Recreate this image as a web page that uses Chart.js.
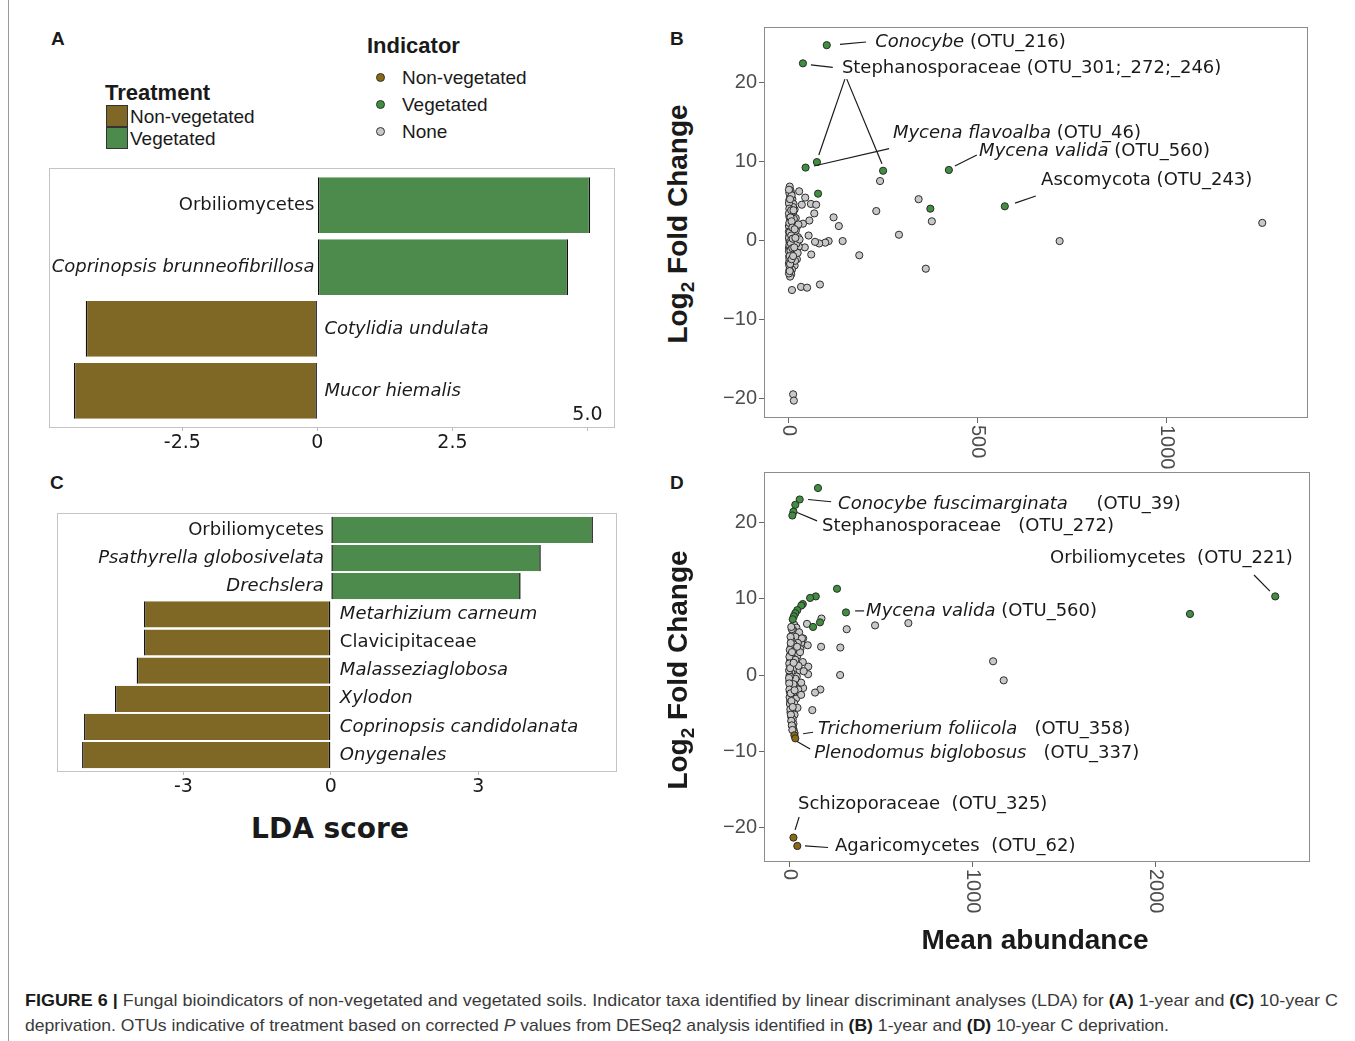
<!DOCTYPE html>
<html>
<head>
<meta charset="utf-8">
<script src="https://cdn.jsdelivr.net/npm/chart.js@4.4.1/dist/chart.umd.min.js"></script>
<style>
  body { margin: 0; background: #fff; }
  #fig { position: relative; width: 1355px; height: 1041px; overflow: hidden; font-family: 'Liberation Sans', Arial, sans-serif; color: #1a1a1a; }
  canvas { position: absolute; }
  .t { position: absolute; white-space: nowrap; line-height: 1; }
  .letter { font-weight: bold; font-size: 19px; }
  .legtitle { font-weight: bold; font-size: 22px; }
  .leg { font-size: 19px; }
  .swatch { position: absolute; width: 20px; height: 20px; border: 1px solid #333; }
  .dot { position: absolute; width: 7px; height: 7px; border: 1px solid #333; border-radius: 50%; }
  .ytitle { font-weight: bold; font-size: 28px; transform: translate(-50%, -50%) rotate(-90deg); }
  .ytitle sub { font-size: 19px; vertical-align: -7px; }
  .cap { font-size: 17px; color: #3a3a3a; transform-origin: 0 0; }
  .cap b { color: #1a1a1a; }
  .edge { position: absolute; left: 8px; top: 0; width: 1px; height: 1041px; background: #9a9a9a; }
</style>
</head>
<body>
<div id="fig">
  <div class="edge"></div>

  <div class="t letter" style="left:51px;top:29px">A</div>
  <div class="t letter" style="left:670px;top:29px">B</div>
  <div class="t letter" style="left:50px;top:473px">C</div>
  <div class="t letter" style="left:670px;top:473px">D</div>

  <div class="t legtitle" style="left:105px;top:82px">Treatment</div>
  <div class="swatch" style="left:106px;top:105px;background:#7f6725"></div>
  <div class="swatch" style="left:106px;top:127px;background:#4d8b4d"></div>
  <div class="t leg" style="left:130px;top:107px">Non-vegetated</div>
  <div class="t leg" style="left:130px;top:129px">Vegetated</div>

  <div class="t legtitle" style="left:367px;top:35px">Indicator</div>
  <div class="dot" style="left:376px;top:73px;background:#8b6914"></div>
  <div class="dot" style="left:376px;top:100px;background:#3f8f3f"></div>
  <div class="dot" style="left:376px;top:127px;background:#c8c8c8"></div>
  <div class="t leg" style="left:402px;top:68px">Non-vegetated</div>
  <div class="t leg" style="left:402px;top:95px">Vegetated</div>
  <div class="t leg" style="left:402px;top:122px">None</div>

  <canvas id="chartA" width="590" height="300" style="left:40px;top:160px"></canvas>
  <canvas id="chartC" width="590" height="300" style="left:40px;top:505px"></canvas>
  <canvas id="chartB" width="630" height="460" style="left:700px;top:20px"></canvas>
  <canvas id="chartD" width="630" height="460" style="left:700px;top:465px"></canvas>

  <div class="t ytitle" style="left:680px;top:224px">Log<sub>2</sub> Fold Change</div>
  <div class="t ytitle" style="left:680px;top:670px">Log<sub>2</sub> Fold Change</div>
  <div class="t" style="left:330px;top:812px;transform:translateX(-50%);font:bold 28px 'DejaVu Sans'">LDA score</div>
  <div class="t" style="left:1035px;top:926px;transform:translateX(-50%);font-weight:bold;font-size:28px">Mean abundance</div>

  <div class="t cap" data-w="1313" style="left:25px;top:992px"><b>FIGURE 6 |</b> Fungal bioindicators of non-vegetated and vegetated soils. Indicator taxa identified by linear discriminant analyses (LDA) for <b>(A)</b> 1-year and <b>(C)</b> 10-year C</div>
  <div class="t cap" data-w="1144" style="left:25px;top:1017px">deprivation. OTUs indicative of treatment based on corrected <i>P</i> values from DESeq2 analysis identified in <b>(B)</b> 1-year and <b>(D)</b> 10-year C deprivation.</div>
</div>

<script>
// ---- LDA scores ----
const taxaA = ['Orbiliomycetes', 'Coprinopsis brunneofibrillosa', 'Cotylidia undulata', 'Mucor hiemalis'];
const ldaA = [5.05, 4.64, -4.29, -4.51];
const ticksA = [-2.5, 0, 2.5, 5.0];
const tickLabelsA = ['-2.5', '0', '2.5', '5.0'];

const taxaC = ['Orbiliomycetes', 'Psathyrella globosivelata', 'Drechslera', 'Metarhizium carneum',
  'Clavicipitaceae', 'Malasseziaglobosa', 'Xylodon', 'Coprinopsis candidolanata', 'Onygenales'];
const ldaC = [5.33, 4.27, 3.86, -3.80, -3.80, -3.95, -4.39, -5.02, -5.06];
const ticksC = [-3, 0, 3];
const tickLabelsC = ['-3', '0', '3'];

// names typeset in italics (genus / species level)
const italicTaxa = new Set(['Coprinopsis brunneofibrillosa', 'Cotylidia undulata', 'Mucor hiemalis',
  'Psathyrella globosivelata', 'Drechslera', 'Metarhizium carneum', 'Malasseziaglobosa', 'Xylodon',
  'Coprinopsis candidolanata', 'Onygenales']);

// ---- DESeq2: [mean abundance, log2 fold change] ----
const vegB = [[100, 24.7], [37, 22.4], [44, 9.2], [74, 9.9], [249, 8.8], [77, 5.9], [423, 8.9], [374, 4.0], [571, 4.3]];
const nonvegB = [];
const noneB = [
  [241, 7.5], [343, 5.2], [231, 3.7], [378, 2.4], [291, 0.7], [362, -3.6], [186, -1.9], [142, -0.1],
  [132, 1.8], [118, 2.9], [105, -0.1], [96, -0.3], [80, -0.4], [69, -0.2], [54, 2.5], [37, 2.1],
  [67, 3.4], [58, 4.6], [72, 4.5], [43, 5.4], [27, 6.2], [34, 4.5], [52, 0.6], [59, -1.8], [42, -0.9],
  [8, -6.3], [32, -5.9], [48, -6.0], [82, -5.6], [11, -19.5], [13, -20.3], [716, -0.1], [1252, 2.2],
  [2, 6.8], [4, 6.3], [6, 5.9], [3, 5.5], [9, 5.2], [5, 4.9], [12, 4.6], [2, 4.4], [8, 4.1], [15, 3.9],
  [4, 3.6], [11, 3.3], [6, 3.0], [18, 2.8], [3, 2.6], [9, 2.3], [14, 2.1], [5, 1.9], [21, 1.7], [2, 1.5],
  [10, 1.3], [7, 1.1], [16, 0.9], [3, 0.7], [12, 0.5], [24, 0.4], [5, 0.2], [9, 0.0], [19, -0.1],
  [2, -0.3], [13, -0.5], [7, -0.7], [26, -0.8], [4, -1.0], [11, -1.2], [17, -1.4], [3, -1.6], [8, -1.8],
  [14, -2.0], [5, -2.2], [21, -2.4], [2, -2.6], [10, -2.8], [6, -3.0], [15, -3.2], [3, -3.4], [8, -3.7],
  [4, -4.0], [6, -4.3], [3, -4.6], [1, 6.0], [1, 3.0], [1, 0], [1, -2], [1, -3.8], [0, 1.8], [0, -1],
  [7, 5.7], [13, 2.7], [20, -0.4], [18, 1.2], [23, -1.6], [28, 0.1], [16, -2.6], [11, 4.2], [25, 2.0],
  [0, 6.4], [1, 5.1], [0, 4.7], [1, 4.0], [0, 3.4], [1, 2.2], [0, 1.1], [1, 0.6], [0, 0.3], [1, -0.6],
  [0, -1.4], [1, -2.3], [0, -2.9], [1, -3.2], [0, -4.2], [3, 5.2], [4, 2.9], [2, 1.0], [3, -0.2],
  [4, -1.3], [2, -2.0], [3, -3.0], [2, -3.9], [6, 3.8], [7, 2.4], [6, 0.6], [5, -0.4], [7, -2.4],
  [9, 1.6], [10, 0.2], [9, -1.0], [12, 3.8], [11, -2.0], [15, 1.4], [14, -0.9], [17, 0.3]
];
const yTicksB = [-20, -10, 0, 10, 20];
const xTicksB = [0, 500, 1000];

const vegD = [
  [158, 24.5], [58, 23.0], [34, 22.3], [24, 21.4], [18, 20.9], [262, 11.3], [146, 10.3], [115, 10.1],
  [75, 9.3], [67, 9.1], [45, 8.5], [34, 8.1], [26, 7.7], [20, 7.3], [311, 8.2], [169, 6.9], [131, 6.3],
  [2191, 8.0], [2657, 10.3]
];
const nonvegD = [[29, -7.9], [34, -8.3], [24, -21.3], [45, -22.4]];
const noneD = [
  [177, 7.4], [98, 6.7], [315, 6.0], [470, 6.5], [652, 6.8], [175, 3.7], [280, 3.6], [102, 3.9],
  [105, 1.1], [279, 0.0], [104, 0.1], [171, -1.9], [142, -2.3], [127, -4.6], [77, -1.7], [77, 4.8],
  [66, 4.2], [1115, 1.8], [1173, -0.7],
  [28, 6.6], [40, 6.2], [22, 5.9], [55, 5.6], [18, 5.3], [35, 5.0], [70, 4.8], [14, 4.5], [48, 4.2],
  [25, 4.0], [10, 3.7], [62, 3.4], [32, 3.1], [8, 2.8], [45, 2.5], [20, 2.2], [6, 1.9], [75, 1.7],
  [38, 1.4], [4, 1.1], [26, 0.8], [58, 0.6], [12, 0.3], [3, 0.0], [42, -0.2], [18, -0.5], [2, -0.8],
  [66, -1.0], [30, -1.3], [8, -1.6], [50, -1.9], [4, -2.2], [22, -2.5], [14, -2.8], [38, -3.1],
  [6, -3.4], [28, -3.7], [10, -4.0], [46, -4.3], [16, -4.6], [8, -4.9], [30, -5.2], [12, -5.5],
  [20, -5.8], [14, -6.1], [24, -6.4], [18, -6.7], [22, -7.0], [26, -7.3], [30, -7.6], [15, 6.0],
  [60, 3.0], [35, -0.5], [80, 0.5], [52, 1.2], [44, 3.7], [66, -2.6], [34, 2.0], [24, -1.2], [5, -0.2],
  [12, 6.3], [8, 5.0], [4, 3.3], [2, 2.4], [1, 1.5], [0, 0.6], [0, -0.4], [1, -1.1], [2, -1.9],
  [3, -2.9], [5, -3.8], [7, -4.5], [10, -5.2], [12, -6.0], [15, -6.6], [18, -7.2], [9, 4.2], [6, 0.9],
  [9, -2.4], [13, -3.4], [20, -4.2], [25, 1.6], [16, 3.0], [30, -2.0]
];
const yTicksD = [-20, -10, 0, 10, 20];
const xTicksD = [0, 1000, 2000];

// ---- callouts, anchored in data units ----
const calloutsB = [
  { at: [228, 25.1], parts: [['Conocybe', 1], [' (OTU_216)', 0]], lines: [[[135, 24.8], [204, 25.1]]] },
  { at: [140, 21.8], parts: [['Stephanosporaceae (OTU_301;_272;_246)', 0]],
    lines: [[[58, 22.2], [116, 21.9]], [[148, 20.4], [79, 10.8]], [[153, 20.4], [246, 9.7]]] },
  { at: [275, 13.6], parts: [['Mycena flavoalba', 1], [' (OTU_46)', 0]], lines: [[[265, 11.6], [66, 9.4]]] },
  { at: [503, 11.2], parts: [['Mycena valida', 1], [' (OTU_560)', 0]], lines: [[[497, 10.8], [439, 9.4]]] },
  { at: [667, 7.6], parts: [['Ascomycota (OTU_243)', 0]], lines: [[[653, 5.6], [598, 4.7]]] }
];
const calloutsD = [
  { at: [268, 22.3], parts: [['Conocybe fuscimarginata', 1], ['     (OTU_39)', 0]], lines: [[[104, 23.0], [230, 22.7]]] },
  { at: [180, 19.5], parts: [['Stephanosporaceae', 0], ['   (OTU_272)', 0]], lines: [[[44, 21.3], [153, 20.2]]] },
  { at: [1426, 15.3], parts: [['Orbiliomycetes', 0], ['  (OTU_221)', 0]], lines: [[[2541, 13.1], [2628, 11.0]]] },
  { at: [421, 8.4], parts: [['Mycena valida', 1], [' (OTU_560)', 0]], lines: [[[361, 8.4], [410, 8.4]]] },
  { at: [158, -7.1], parts: [['Trichomerium foliicola', 1], ['   (OTU_358)', 0]], lines: [[[77, -7.7], [131, -7.5]]] },
  { at: [137, -10.3], parts: [['Plenodomus biglobosus', 1], ['   (OTU_337)', 0]], lines: [[[44, -8.7], [115, -9.7]]] },
  { at: [49, -17.0], parts: [['Schizoporaceae', 0], ['  (OTU_325)', 0]], lines: [[[55, -18.6], [33, -20.3]]] },
  { at: [251, -22.5], parts: [['Agaricomycetes', 0], ['  (OTU_62)', 0]], lines: [[[87, -22.4], [213, -22.6]]] }
];

const GREEN = '#4d8b4d', BROWN = '#7f6725';
const PT_GREEN = '#3f8f3f', PT_BROWN = '#8b6914', PT_GREY = '#c8c8c8';
const TEXT = '#1a1a1a';

function fixSize(size, horizontal) {
  return (scale) => {
    if (horizontal) scale.height = size; else scale.width = size;
    scale.paddingLeft = scale.paddingRight = scale.paddingTop = scale.paddingBottom = 0;
  };
}

const frame = {
  id: 'frame',
  afterDatasetsDraw(chart, args, opts) {
    const { ctx, chartArea: a } = chart;
    ctx.save();
    ctx.strokeStyle = opts.color;
    ctx.lineWidth = 1;
    ctx.strokeRect(Math.round(a.left) + 0.5, Math.round(a.top) + 0.5,
      Math.round(a.right - a.left) - 1, Math.round(a.bottom - a.top) - 1);
    ctx.restore();
  }
};

function barLabels(names, gapPos, gapNeg) {
  return {
    id: 'barLabels',
    afterDatasetsDraw(chart) {
      const { ctx, scales: { x, y } } = chart;
      const zero = x.getPixelForValue(0);
      ctx.save();
      ctx.fillStyle = TEXT;
      ctx.textBaseline = 'middle';
      chart.data.datasets[0].data.forEach((d, i) => {
        const py = y.getPixelForValue(d.y);
        ctx.font = (italicTaxa.has(names[i]) ? 'italic ' : '') + '18px "DejaVu Sans"';
        if (d.x > 0) {
          ctx.textAlign = 'right';
          ctx.fillText(names[i], zero - gapPos, py);
        } else {
          ctx.textAlign = 'left';
          ctx.fillText(names[i], zero + gapNeg, py);
        }
      });
      ctx.restore();
    }
  };
}

// the top tick of panel A sits inside the panel
function raisedLastTick(labels) {
  return {
    id: 'raisedTick',
    afterDraw(chart) {
      const { ctx, scales: { x }, chartArea } = chart;
      const t = x.ticks[x.ticks.length - 1];
      ctx.save();
      ctx.font = '19px "DejaVu Sans"';
      ctx.fillStyle = TEXT;
      ctx.textAlign = 'center';
      ctx.textBaseline = 'middle';
      ctx.fillText(labels[labels.length - 1], x.getPixelForValue(t.value), chartArea.bottom - 13);
      ctx.restore();
    }
  };
}

function ldaChart(id, names, values, ticks, labels, yMax, barPct, pad, gaps, extra) {
  return new Chart(document.getElementById(id), {
    type: 'bar',
    data: {
      datasets: [{
        data: values.map((v, i) => ({ x: v, y: i + 1 })),
        backgroundColor: values.map(v => (v > 0 ? GREEN : BROWN)),
        borderColor: '#111',
        borderWidth: { left: 1.5, right: 1.5, top: 0, bottom: 0 },
        borderSkipped: false,
        barPercentage: barPct,
        categoryPercentage: 1
      }]
    },
    options: {
      indexAxis: 'y',
      responsive: false,
      animation: false,
      events: [],
      layout: { padding: pad },
      plugins: { legend: { display: false }, tooltip: { enabled: false }, frame: { color: '#c4c4c4' } },
      scales: {
        x: {
          type: 'linear', min: pad.xMin, max: pad.xMax,
          afterBuildTicks: (s) => { s.ticks = ticks.map(v => ({ value: v })); },
          ticks: {
            callback: (v, i) => (extra && i === ticks.length - 1 ? '' : labels[i]),
            font: { family: 'DejaVu Sans', size: 19 }, color: TEXT, padding: 1, maxRotation: 0
          },
          grid: { drawOnChartArea: false, tickLength: 3, tickColor: '#bbb' },
          border: { display: false },
          afterFit: fixSize(26, true)
        },
        // one tick per taxon so the bar ruler spaces bars by whole rows
        y: {
          type: 'linear', min: 0.4, max: yMax, reverse: true, display: false, offset: false,
          afterBuildTicks: (s) => { s.ticks = names.map((n, i) => ({ value: i + 1 })); }
        }
      }
    },
    plugins: [frame, barLabels(names, gaps[0], gaps[1])].concat(extra ? [raisedLastTick(labels)] : [])
  });
}

ldaChart('chartA', taxaA, ldaA, ticksA, tickLabelsA, 4.6, 0.9,
  { left: 9, right: 15, top: 8, bottom: 6, xMin: -4.97, xMax: 5.51 }, [3, 7], true);
ldaChart('chartC', taxaC, ldaC, ticksC, tickLabelsC, 9.6, 0.93,
  { left: 17, right: 13, top: 8, bottom: 7, xMin: -5.57, xMax: 5.82 }, [7, 9], false);

const rotatedXLabels = {
  id: 'rotatedX',
  afterDraw(chart) {
    const { ctx, scales: { x }, chartArea } = chart;
    ctx.save();
    ctx.font = '20px "Liberation Sans"';
    ctx.fillStyle = '#4d4d4d';
    ctx.textAlign = 'left';
    ctx.textBaseline = 'middle';
    x.ticks.forEach(t => {
      ctx.save();
      ctx.translate(x.getPixelForValue(t.value), chartArea.bottom + 7);
      ctx.rotate(Math.PI / 2);
      ctx.fillText(String(t.value), 0, 0);
      ctx.restore();
    });
    ctx.restore();
  }
};

function callouts(items) {
  return {
    id: 'callouts',
    afterDatasetsDraw(chart) {
      const { ctx, scales: { x, y } } = chart;
      ctx.save();
      ctx.strokeStyle = TEXT;
      ctx.lineWidth = 1.2;
      ctx.fillStyle = TEXT;
      ctx.textAlign = 'left';
      ctx.textBaseline = 'middle';
      items.forEach(it => {
        it.lines.forEach(([a, b]) => {
          ctx.beginPath();
          ctx.moveTo(x.getPixelForValue(a[0]), y.getPixelForValue(a[1]));
          ctx.lineTo(x.getPixelForValue(b[0]), y.getPixelForValue(b[1]));
          ctx.stroke();
        });
        let px = x.getPixelForValue(it.at[0]);
        const py = y.getPixelForValue(it.at[1]);
        it.parts.forEach(([txt, ital]) => {
          ctx.font = (ital ? 'italic ' : '') + '18px "DejaVu Sans"';
          ctx.fillText(txt, px, py);
          px += ctx.measureText(txt).width;
        });
      });
      ctx.restore();
    }
  };
}

const fmtSigned = (v) => (v < 0 ? '\u2212' + Math.abs(v) : String(v));

function pointSet(pts, fill) {
  return {
    data: pts.map(([x, y]) => ({ x, y })),
    backgroundColor: fill,
    borderColor: '#2b2b2b',
    borderWidth: 1,
    pointRadius: 3.6
  };
}

function deseqChart(id, veg, nonveg, none, xTicks, yTicks, lim, pad, items) {
  return new Chart(document.getElementById(id), {
    type: 'scatter',
    data: {
      // first dataset is painted last, so the grey background points go at the end
      datasets: [pointSet(veg, PT_GREEN), pointSet(nonveg, PT_BROWN), pointSet(none, PT_GREY)]
    },
    options: {
      responsive: false,
      animation: false,
      events: [],
      layout: { padding: pad },
      plugins: { legend: { display: false }, tooltip: { enabled: false }, frame: { color: '#8c8c8c' } },
      scales: {
        x: {
          type: 'linear', min: lim[0], max: lim[1],
          afterBuildTicks: (s) => { s.ticks = xTicks.map(v => ({ value: v })); },
          ticks: { display: false },
          grid: { drawOnChartArea: false, tickLength: 5, tickColor: '#666' },
          border: { display: false },
          afterFit: fixSize(50, true)
        },
        y: {
          type: 'linear', min: lim[2], max: lim[3],
          afterBuildTicks: (s) => { s.ticks = yTicks.map(v => ({ value: v })); },
          ticks: { callback: fmtSigned, font: { family: 'Liberation Sans', size: 20 }, color: '#4d4d4d', padding: 2 },
          grid: { drawOnChartArea: false, tickLength: 5, tickColor: '#666' },
          border: { display: false },
          afterFit: fixSize(60, false)
        }
      }
    },
    plugins: [callouts(items), frame, rotatedXLabels]
  });
}

deseqChart('chartB', vegB, nonvegB, noneB, xTicksB, yTicksB, [-66, 1373, -22.5, 27],
  { left: 4, right: 22, top: 7, bottom: 12 }, calloutsB);
deseqChart('chartD', vegD, nonvegD, noneD, xTicksD, yTicksD, [-137, 2847, -24.5, 26.6],
  { left: 4, right: 20, top: 7, bottom: 13 }, calloutsD);

// stretch each caption line to its set width
document.querySelectorAll('.cap').forEach(c => {
  const k = Number(c.dataset.w) / c.getBoundingClientRect().width;
  c.style.transform = 'scaleX(' + k + ')';
});
</script>
</body>
</html>
